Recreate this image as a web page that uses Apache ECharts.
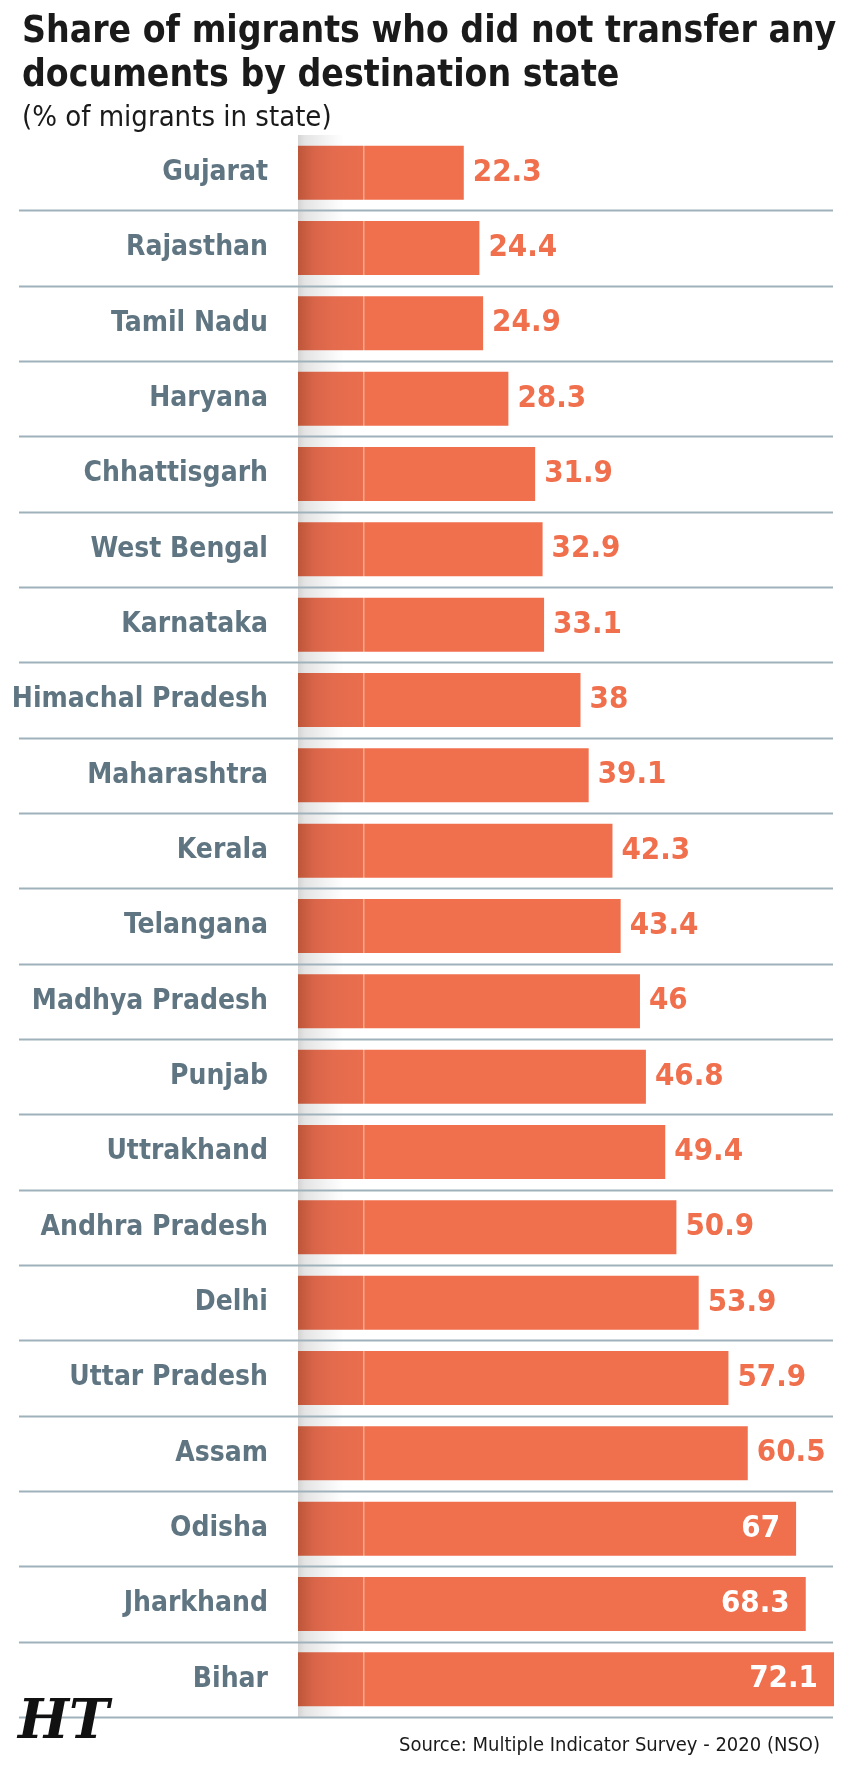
<!DOCTYPE html>
<html>
<head>
<meta charset="utf-8">
<script src="https://cdn.jsdelivr.net/npm/echarts@6/dist/echarts.min.js"></script>
<style>
html,body{margin:0;padding:0;background:#fff;}
#chart{width:864px;height:1766px;}
</style>
</head>
<body>
<div id="chart"></div>
<script>
const states = ["Gujarat","Rajasthan","Tamil Nadu","Haryana","Chhattisgarh","West Bengal","Karnataka","Himachal Pradesh","Maharashtra","Kerala","Telangana","Madhya Pradesh","Punjab","Uttrakhand","Andhra Pradesh","Delhi","Uttar Pradesh","Assam","Odisha","Jharkhand","Bihar"];
const shares = [22.3,24.4,24.9,28.3,31.9,32.9,33.1,38,39.1,42.3,43.4,46,46.8,49.4,50.9,53.9,57.9,60.5,67,68.3,72.1];
const titleLines = ["Share of migrants who did not transfer any","documents by destination state"];
const subtitle = "(% of migrants in state)";
const sourceText = "Source: Multiple Indicator Survey - 2020 (NSO)";

const FONT = "'DejaVu Sans Condensed','Liberation Sans Narrow',sans-serif";
const ORANGE = '#f06f4d';
const LABEL_GREY = '#5f7582';
const insideFrom = 65; // values above this get white labels inside bar

const chart = echarts.init(document.getElementById('chart'), null, {renderer:'canvas'});

const barGradient = {
  type:'linear', x:298, y:0, x2:834, y2:0, global:true,
  colorStops:[
    {offset:0, color:'#bd5639'},
    {offset:0.03, color:'#d96549'},
    {offset:0.065, color:'#e46b4d'},
    {offset:0.121, color:'#e96e4e'},
    {offset:0.122, color:'#f6a98f'},
    {offset:0.126, color:ORANGE},
    {offset:1, color:ORANGE}
  ]
};

const option = {
  backgroundColor:'#ffffff',
  animation:false,
  title:[
    {text:titleLines.join('\n'), left:17, top:5,
     textStyle:{fontFamily:FONT, fontWeight:'bold', fontSize:37, lineHeight:44, color:'#1a1a1a'}},
    {text:subtitle, left:17, top:99,
     textStyle:{fontFamily:FONT, fontWeight:'normal', fontSize:29, color:'#1a1a1a'}},
    {text:sourceText, right:39, top:1731,
     textStyle:{fontFamily:FONT, fontWeight:'normal', fontSize:20, color:'#1a1a1a'}},
    {text:'HT', left:13, top:1692,
     textStyle:{fontFamily:"'DejaVu Serif',serif", fontWeight:'bold', fontStyle:'italic', fontSize:54, color:'#111'}}
  ],
  graphic:[
    {type:'rect', z:0, shape:{x:298, y:135, width:46, height:1582},
     style:{fill:{type:'linear', x:0, y:0, x2:1, y2:0,
       colorStops:[{offset:0,color:'#d4d4d4'},{offset:0.15,color:'#e4e4e4'},{offset:0.6,color:'#f3f3f3'},{offset:1,color:'#ffffff'}]}}}
  ],
  grid:{left:298, right:30, top:135, bottom:49, containLabel:false, outerBoundsMode:'none'},
  xAxis:{type:'value', min:0, max:72.1, show:false},
  yAxis:{type:'category', data:states, inverse:true,
    axisLine:{show:false}, axisTick:{show:false}, splitLine:{show:false},
    axisLabel:{margin:30, fontFamily:FONT, fontWeight:'bold', fontSize:28, color:LABEL_GREY}},
  series:[
    {type:'custom', z:1, clip:false, silent:true,
     data:states.map((s,i)=>[0,i]),
     encode:{x:0, y:1},
     renderItem:function(params, api){
       const c = api.coord([0, api.value(1)]);
       const band = api.size([0,1])[1];
       const y = Math.round(c[1] + band/2) + 0.5;
       return {type:'line', shape:{x1:19, y1:y, x2:833, y2:y},
               style:{stroke:'#9fb1bb', lineWidth:2}};
     }},
    {type:'bar', z:2, data:shares.map(v=>({value:v,
        label:v>insideFrom?{position:'insideRight', distance:16, color:'#ffffff'}:{position:'right', distance:9, color:ORANGE}})),
     barWidth:54,
     itemStyle:{color:barGradient},
     label:{show:true, fontFamily:FONT, fontWeight:'bold', fontSize:31}}
  ]
};
chart.setOption(option);
</script>
</body>
</html>
